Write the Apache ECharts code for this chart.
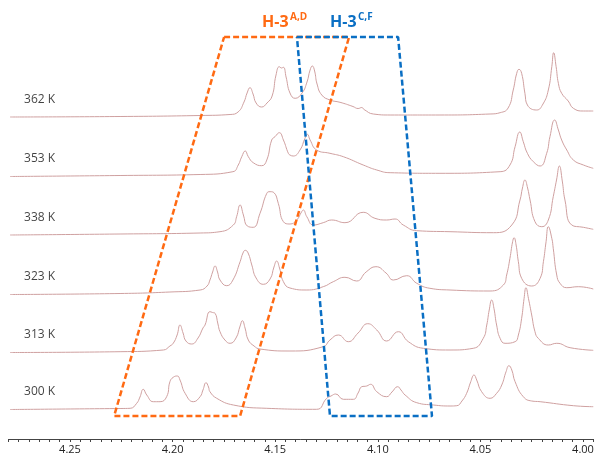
<!DOCTYPE html>
<html>
<head>
<meta charset="utf-8">
<script src="https://cdn.jsdelivr.net/npm/echarts@6/dist/echarts.min.js"></script>
<style>html,body{margin:0;padding:0;background:#fff}#c{width:594px;height:455px}</style>
</head>
<body>
<div id="c"></div>
<script>
// Temperatures (top to bottom) and vertical stacking offsets of each trace
const temperatures = ['362 K', '353 K', '338 K', '323 K', '313 K', '300 K'];
const offsets = [322, 263, 204, 145, 87, 30];

// Spectra: [chemical shift ppm, intensity]
const spec362 = [[4.2792,0],[4.2256,0.5],[4.1866,1.5],[4.1720,2.5],[4.1681,5],[4.1652,15],[4.1637,24],[4.1623,29.3],[4.1608,23],[4.1593,14],[4.1566,10],[4.1540,14],[4.1515,21],[4.1496,42],[4.1480,50.3],[4.1470,49],[4.1460,49.7],[4.1447,40],[4.1428,24],[4.1403,18.7],[4.1369,24],[4.1345,35],[4.1330,47],[4.1319,51],[4.1308,46],[4.1296,33],[4.1273,22],[4.1233,17],[4.1184,14.7],[4.1121,10.5],[4.1096,8.5],[4.1078,9.5],[4.1067,7.5],[4.1022,3],[4.0940,2],[4.0697,2],[4.0453,3],[4.0404,4.3],[4.0365,9],[4.0340,27],[4.0323,43.7],[4.0312,47.7],[4.0299,43.7],[4.0283,23.7],[4.0271,12],[4.0226,7],[4.0195,13],[4.0169,27],[4.0152,50.3],[4.0143,64.3],[4.0131,50.3],[4.0120,33.7],[4.0104,23.7],[4.0072,16],[4.0047,8.7],[3.9998,6],[3.9950,6]];
const spec353 = [[4.2792,-0.5],[4.2256,0.5],[4.1866,1.5],[4.1706,4.3],[4.1680,11],[4.1663,19.3],[4.1646,25],[4.1631,19.3],[4.1607,13.3],[4.1566,10.3],[4.1541,16],[4.1517,36],[4.1501,39.3],[4.1480,43.3],[4.1460,36],[4.1436,22.7],[4.1428,21],[4.1412,20],[4.1379,26],[4.1355,37.7],[4.1343,41.7],[4.1330,36],[4.1298,26],[4.1233,22.7],[4.1168,19.3],[4.1071,11],[4.1005,6],[4.0940,3.3],[4.0697,2.7],[4.0404,4.3],[4.0356,11],[4.0331,29.3],[4.0308,44],[4.0291,34.3],[4.0271,22.7],[4.0242,14.3],[4.0209,10],[4.0177,22.7],[4.0161,39.3],[4.0138,56],[4.0120,46],[4.0104,36],[4.0079,26],[4.0047,16],[3.9998,11],[3.9950,7.7]];
const spec338 = [[4.2792,0],[4.2256,1],[4.1866,2],[4.1769,3.3],[4.1704,10],[4.1688,18.3],[4.1671,30],[4.1655,20],[4.1636,9],[4.1607,7.7],[4.1574,21.7],[4.1541,41.7],[4.1525,43.3],[4.1506,42.3],[4.1485,31.7],[4.1460,13.3],[4.1428,11],[4.1395,15],[4.1371,23.3],[4.1363,25],[4.1346,18.3],[4.1314,10],[4.1266,12.3],[4.1225,15],[4.1160,12.3],[4.1071,22.7],[4.1014,16.7],[4.0957,15],[4.0916,16],[4.0876,10],[4.0810,4.3],[4.0648,3.3],[4.0437,2.3],[4.0347,10],[4.0307,35],[4.0295,47],[4.0283,55],[4.0270,47],[4.0258,35],[4.0234,13.3],[4.0201,8.3],[4.0169,15],[4.0145,38.3],[4.0129,55],[4.0115,69],[4.0101,54],[4.0088,35],[4.0055,10],[3.9998,7.7],[3.9950,5.7]];
const spec323 = [[4.2792,-0.5],[4.2256,0.5],[4.2013,2],[4.1866,4],[4.1832,8],[4.1818,14],[4.1805,22],[4.1793,28],[4.1781,22],[4.1769,14],[4.1736,8.3],[4.1706,14],[4.1671,32.3],[4.1657,41],[4.1646,43.7],[4.1632,41],[4.1614,29],[4.1593,16],[4.1558,9.7],[4.1525,15],[4.1506,27],[4.1493,33],[4.1479,26],[4.1460,12.3],[4.1428,6],[4.1346,4],[4.1266,7.3],[4.1217,12.3],[4.1160,16.7],[4.1103,13],[4.1057,22],[4.1009,27.3],[4.0960,21],[4.0924,14],[4.0859,18.3],[4.0810,10.7],[4.0746,5.7],[4.0648,4],[4.0453,3],[4.0388,9],[4.0372,19],[4.0356,35.7],[4.0343,52.3],[4.0336,56.3],[4.0326,49],[4.0315,32.3],[4.0299,15.7],[4.0250,8],[4.0209,15.7],[4.0193,32.3],[4.0180,52.3],[4.0169,67.3],[4.0152,55.7],[4.0145,45.7],[4.0128,19],[4.0112,10.7],[4.0079,6.3],[4.0023,7.3],[3.9950,5]];
const spec313 = [[4.2792,-0.5],[4.2256,0.3],[4.2045,2],[4.2013,6],[4.1997,8.7],[4.1978,17],[4.1964,27],[4.1949,19],[4.1935,11],[4.1907,8],[4.1876,14],[4.1852,24],[4.1842,27],[4.1818,40.3],[4.1805,39.5],[4.1793,38.7],[4.1779,28],[4.1769,20.3],[4.1745,12],[4.1720,8.7],[4.1691,14],[4.1671,26],[4.1660,31.3],[4.1647,24],[4.1631,12],[4.1603,6],[4.1574,3],[4.1428,1],[4.1266,5.3],[4.1233,12],[4.1192,17],[4.1144,10.3],[4.1096,19],[4.1049,28.3],[4.1005,22],[4.0957,11],[4.0900,20.3],[4.0851,10.3],[4.0778,3.7],[4.0648,2],[4.0535,3.7],[4.0486,13.7],[4.0469,27],[4.0457,42],[4.0445,52],[4.0434,43.7],[4.0421,27],[4.0404,13.7],[4.0380,8.7],[4.0331,10.3],[4.0315,17],[4.0299,33.7],[4.0287,53.7],[4.0278,64.3],[4.0266,53.7],[4.0250,37],[4.0234,20.3],[4.0218,13.7],[4.0169,7],[4.0128,8.7],[4.0063,4.3],[3.9950,1.7]];
const spec300 = [[4.2792,-0.5],[4.2256,0.5],[4.2207,0.7],[4.2175,5.7],[4.2159,12],[4.2143,19.7],[4.2126,14],[4.2094,7.3],[4.2061,7.3],[4.2029,12.3],[4.2013,27.3],[4.1997,31.7],[4.1977,33],[4.1964,29],[4.1939,15.7],[4.1899,7.3],[4.1866,12.3],[4.1852,19],[4.1837,26.3],[4.1825,22],[4.1818,17.3],[4.1785,10.7],[4.1704,4],[4.1541,0.7],[4.1298,-0.3],[4.1249,10.7],[4.1228,13],[4.1205,15],[4.1168,9.7],[4.1119,9.7],[4.1096,16],[4.1078,22.3],[4.1054,23],[4.1035,24.7],[4.1005,17.3],[4.0957,12.3],[4.0931,17],[4.0903,22.3],[4.0887,19],[4.0867,14],[4.0810,6.3],[4.0729,4],[4.0648,3],[4.0615,3.3],[4.0590,8],[4.0567,15.7],[4.0547,27.3],[4.0531,34],[4.0518,29],[4.0494,17.3],[4.0453,10.7],[4.0421,15.7],[4.0396,24],[4.0375,37.3],[4.0361,43.3],[4.0347,39],[4.0331,27.3],[4.0291,12.3],[4.0250,8],[4.0209,7.3],[4.0047,3.3],[3.9950,2.3]];
const spectra = [spec362, spec353, spec338, spec323, spec313, spec300];

// Highlight regions (parallelograms): [ppm, y] corners
const regionAD = [[4.1749,402],[4.1140,402],[4.1671,23],[4.2285,23],[4.1749,402]];
const regionCF = [[4.1394,402],[4.0901,402],[4.0736,23],[4.1233,23],[4.1394,402]];

// Axis
const xMin = 3.995, xMax = 4.28, xStep = 0.005;

const lineColor = '#cfa0a0';
const series = [];
spectra.forEach((s, i) => {
  series.push({
    type: 'line', name: temperatures[i],
    data: s.map(p => [p[0], p[1] + offsets[i]]),
    showSymbol: false, symbol: 'none', smooth: 0.5,
    lineStyle: { color: lineColor, width: 1 }, z: 2, silent: true
  });
});
series.push({
  type: 'scatter', symbolSize: 0, silent: true, z: 3,
  data: temperatures.map((t, i) => ({ name: t, value: [4.2724, offsets[i] + 17] })),
  label: { show: true, position: 'right', distance: 0, formatter: p => p.name,
           fontFamily: 'Open Sans', fontSize: 12, color: '#111' }
});
series.push({
  type: 'line', data: regionAD, showSymbol: false, symbol: 'none', z: 5, silent: true,
  lineStyle: { color: '#ff6a13', width: 2.5, type: [6, 3] }
});
series.push({
  type: 'line', data: regionCF, showSymbol: false, symbol: 'none', z: 5, silent: true,
  lineStyle: { color: '#0a6fc4', width: 2.5, type: [6, 3] }
});

const chart = echarts.init(document.getElementById('c'), null, { renderer: 'canvas' });
chart.setOption({
  animation: false,
  backgroundColor: '#fff',
  grid: { left: 8.44, right: 0.74, top: 0, bottom: 16, containLabel: false, outerBoundsMode: 'none' },
  xAxis: {
    type: 'value', inverse: true, min: xMin, max: xMax, interval: xStep,
    axisLine: { show: true, lineStyle: { color: '#444', width: 1 } },
    axisTick: { show: true, length: 3, lineStyle: { color: '#444' } },
    splitLine: { show: false },
    axisLabel: {
      margin: 5, fontFamily: 'Open Sans', fontSize: 11, color: '#222',
      formatter: v => (Math.abs(v * 20 - Math.round(v * 20)) < 1e-6 ? v.toFixed(2) : '')
    }
  },
  yAxis: { type: 'value', min: 0, max: 439, show: false },
  graphic: [
    { type: 'text', left: 262, top: 14, style: { text: 'H-3', fill: '#ff6a13', font: 'bold 16px "Open Sans"' } },
    { type: 'text', left: 290, top: 12, style: { text: 'A,D', fill: '#ff6a13', font: 'bold 10px "Open Sans"' } },
    { type: 'text', left: 330, top: 14, style: { text: 'H-3', fill: '#0a6fc4', font: 'bold 16px "Open Sans"' } },
    { type: 'text', left: 358, top: 12, style: { text: 'C,F', fill: '#0a6fc4', font: 'bold 10px "Open Sans"' } }
  ],
  series: series
});
</script>
</body>
</html>
